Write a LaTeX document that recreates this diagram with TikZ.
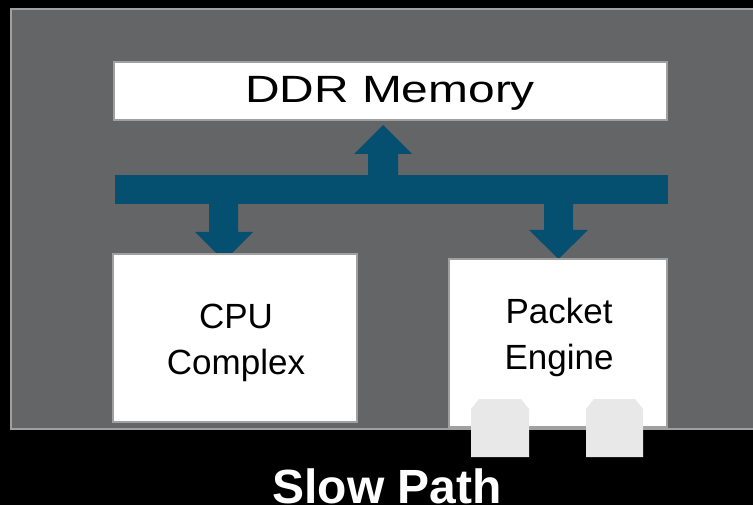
\documentclass[tikz,border=0pt]{standalone}
\usepackage{fontspec}
\usepackage{graphicx}
\usetikzlibrary{calc}
\setmainfont{Liberation Sans}
\definecolor{panelgrey}{HTML}{646567}
\definecolor{rimgrey}{HTML}{A0A0A0}
\definecolor{busblue}{HTML}{054F70}
\definecolor{portgrey}{HTML}{E8E8E8}
\tikzset{
  unitbox/.style={draw=rimgrey, line width=2pt, fill=white, inner sep=0pt},
  unittext/.style={align=center, text=black, inner sep=0pt,
    font=\fontsize{35}{46}\selectfont},
  busshape/.style={fill=busblue, draw=none},
  portshape/.style={fill=portgrey, draw=none}
}
\begin{document}
\begin{tikzpicture}[x=1pt, y=-1pt]
  % canvas
  \useasboundingbox (0,0) rectangle (753,505);
  \fill[black] (0,0) rectangle (753,505);
  % grey panel holding the system
  \node[fill=panelgrey, draw=rimgrey, line width=2pt, inner sep=0pt,
        minimum width=760pt, minimum height=420pt, anchor=north west]
        (panel) at (10,8) {};

  % shared bus and its three block arrows
  \node[busshape, inner sep=0pt, minimum width=553pt, minimum height=29pt]
        (bus) at (391.5,189.5) {};
  \fill[busshape] (368,175) -- (368,154) -- (354,154) -- (383,125)
        -- (412,154) -- (398,154) -- (398,175) -- cycle;
  \fill[busshape] (209,204) -- (209,232) -- (195,232) -- (224,261)
        -- (253,232) -- (238,232) -- (238,204) -- cycle;
  \fill[busshape] (544,204) -- (544,230) -- (529,230) -- (558.5,259)
        -- (588,230) -- (573,230) -- (573,204) -- cycle;

  % memory and processing blocks
  \node[unitbox, minimum width=553pt, minimum height=58pt] (ddr) at (390.5,91) {};
  \node[unitbox, minimum width=244pt, minimum height=168pt] (cpu) at (235,338) {};
  \node[unitbox, minimum width=218pt, minimum height=168pt] (pe) at (558,343) {};

  % block names
  \node[unittext, font=\fontsize{38}{44}\selectfont, anchor=base]
        (ddrtext) at (390,103) {\scalebox{1.26}[1]{DDR Memory}};
  \node[unittext, anchor=north] (cputext) at (236,304) {CPU\\Complex};
  \node[unittext, anchor=north] (petext) at (559,298) {Packet\\Engine};

  % ports on the packet engine
  \fill[portshape] (471,457) -- (471,409) -- (479,399) -- (521,399)
        -- (529,409) -- (529,457) -- cycle;
  \fill[portshape] (586,457) -- (586,409) -- (594,399) -- (635,399)
        -- (643,409) -- (643,457) -- cycle;

  % caption
  \node[text=white, font=\fontsize{48}{56}\selectfont\bfseries,
        anchor=base, inner sep=0pt] (caption) at (387,503) {Slow Path};
\end{tikzpicture}
\end{document}
